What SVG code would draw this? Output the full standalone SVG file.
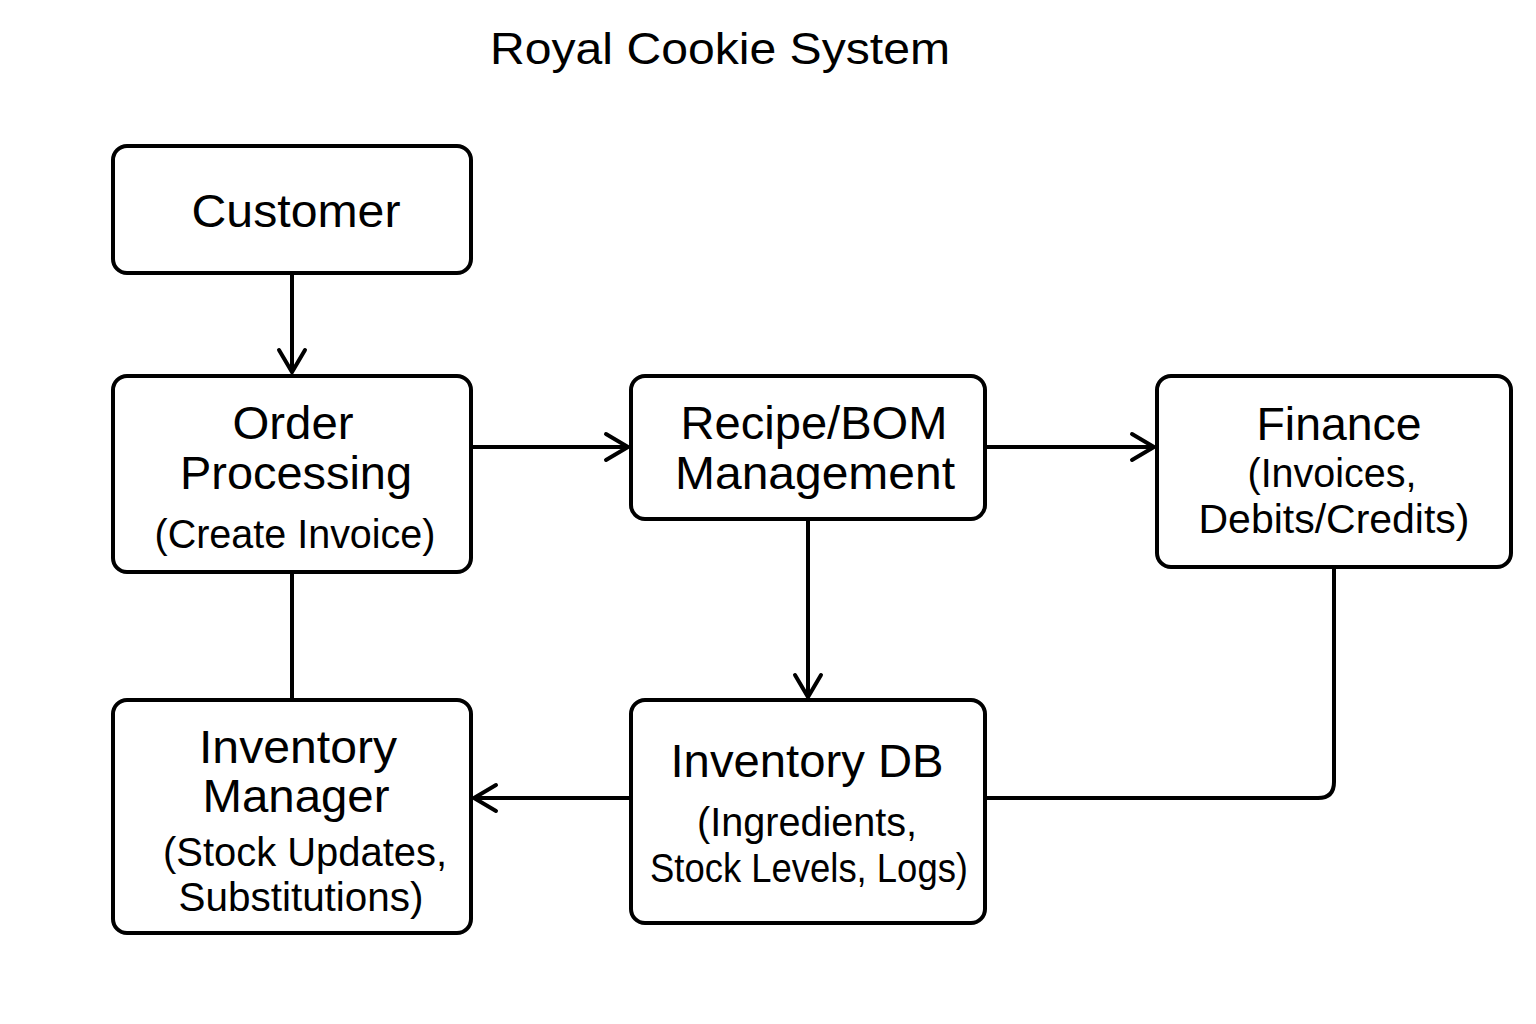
<svg xmlns="http://www.w3.org/2000/svg" width="1536" height="1024" viewBox="0 0 1536 1024">
<defs>
<marker id="arr" markerUnits="userSpaceOnUse" markerWidth="40" markerHeight="40" viewBox="-30 -20 40 40" refX="0" refY="0" orient="auto">
<path d="M -22 -13 L 0 0 L -22 13" fill="none" stroke="#000" stroke-width="4" stroke-linecap="round" stroke-linejoin="miter"/>
</marker>
</defs>
<style>
.box{fill:#fff;stroke:#000;stroke-width:4}
.t{font-family:"Liberation Sans",Arial,sans-serif;fill:#000;text-anchor:middle}
.m{font-size:47px}
.s{font-size:40px}
.c{fill:none;stroke:#000;stroke-width:4}
</style>
<rect width="1536" height="1024" fill="#fff"/>
<text class="t" x="720" y="64" font-size="45" textLength="460" lengthAdjust="spacingAndGlyphs">Royal Cookie System</text>
<g id="connectors">
<line class="c" x1="292" y1="273" x2="292" y2="372" marker-end="url(#arr)"/>
<line class="c" x1="471" y1="447" x2="628" y2="447" marker-end="url(#arr)"/>
<line class="c" x1="985" y1="447" x2="1154" y2="447" marker-end="url(#arr)"/>
<line class="c" x1="808" y1="519" x2="808" y2="697" marker-end="url(#arr)"/>
<line class="c" x1="292" y1="572" x2="292" y2="700"/>
<line class="c" x1="631" y1="798" x2="474" y2="798" marker-end="url(#arr)"/>
<path class="c" d="M 1334 567 V 782 Q 1334 798 1318 798 H 985"/>
</g>
<g id="customer">
<rect class="box" x="113" y="146" width="358" height="127" rx="14"/>
<text class="t m" x="296" y="227" textLength="209" lengthAdjust="spacingAndGlyphs">Customer</text>
</g>
<g id="order-processing">
<rect class="box" x="113" y="376" width="358" height="196" rx="14"/>
<text class="t m" x="293" y="439" textLength="121" lengthAdjust="spacingAndGlyphs">Order</text>
<text class="t m" x="296" y="489" textLength="232" lengthAdjust="spacingAndGlyphs">Processing</text>
<text class="t s" x="295" y="548" textLength="281" lengthAdjust="spacingAndGlyphs">(Create Invoice)</text>
</g>
<g id="recipe-bom">
<rect class="box" x="631" y="376" width="354" height="143" rx="14"/>
<text class="t m" x="814" y="439" textLength="267" lengthAdjust="spacingAndGlyphs">Recipe/BOM</text>
<text class="t m" x="815" y="489" textLength="280" lengthAdjust="spacingAndGlyphs">Management</text>
</g>
<g id="finance">
<rect class="box" x="1157" y="376" width="354" height="191" rx="14"/>
<text class="t m" x="1339" y="440" textLength="165" lengthAdjust="spacingAndGlyphs">Finance</text>
<text class="t s" x="1332" y="487" textLength="169" lengthAdjust="spacingAndGlyphs">(Invoices,</text>
<text class="t s" x="1334" y="533" textLength="271" lengthAdjust="spacingAndGlyphs">Debits/Credits)</text>
</g>
<g id="inventory-manager">
<rect class="box" x="113" y="700" width="358" height="233" rx="14"/>
<text class="t m" x="298" y="763" textLength="198" lengthAdjust="spacingAndGlyphs">Inventory</text>
<text class="t m" x="296" y="812" textLength="187" lengthAdjust="spacingAndGlyphs">Manager</text>
<text class="t s" x="305" y="866" textLength="284" lengthAdjust="spacingAndGlyphs">(Stock Updates,</text>
<text class="t s" x="301" y="911" textLength="245" lengthAdjust="spacingAndGlyphs">Substitutions)</text>
</g>
<g id="inventory-db">
<rect class="box" x="631" y="700" width="354" height="223" rx="14"/>
<text class="t m" x="807" y="777" textLength="273" lengthAdjust="spacingAndGlyphs">Inventory DB</text>
<text class="t s" x="807" y="836" textLength="220" lengthAdjust="spacingAndGlyphs">(Ingredients,</text>
<text class="t s" x="809" y="882" textLength="318" lengthAdjust="spacingAndGlyphs">Stock Levels, Logs)</text>
</g>
</svg>
